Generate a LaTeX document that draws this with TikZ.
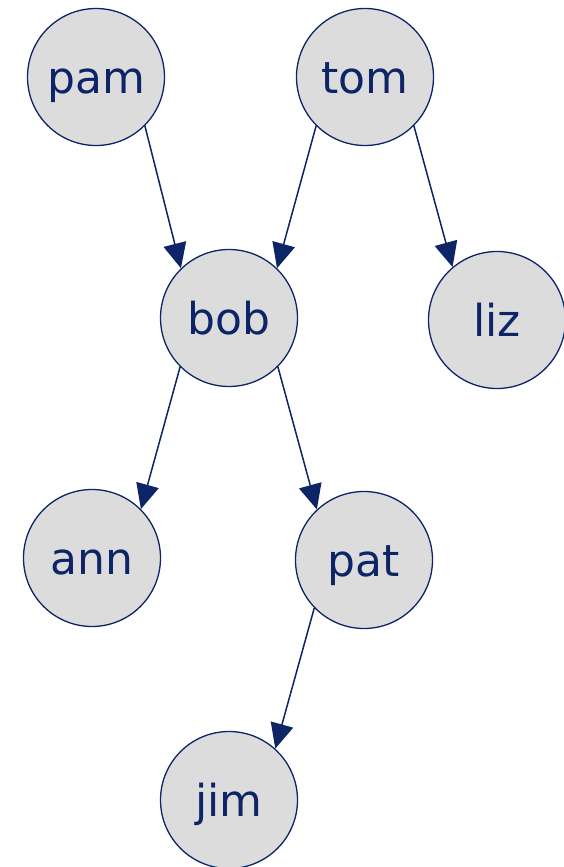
\documentclass[tikz,border=0pt]{standalone}
\usepackage{fontspec}
\setmainfont{DejaVu Sans}
\usetikzlibrary{arrows.meta}
\definecolor{navy}{HTML}{0D2466}
\definecolor{nodefill}{HTML}{DCDCDC}
\begin{document}
\begin{tikzpicture}[x=1pt,y=-1pt,
  person/.style={circle, draw=navy, line width=1.3pt, fill=nodefill,
    minimum size=137pt, inner sep=0pt, text=navy,
    text height=32pt, text depth=0pt,
    font=\fontsize{44}{44}\selectfont},
  parent/.style={draw=navy, line width=1.5pt,
    -{Triangle[length=25pt,width=23pt]}}]
\useasboundingbox (0,0) rectangle (563,867);
\node[person] (pam) at (96,77)  {pam};
\node[person] (tom) at (365,77) {tom};
\node[person] (bob) at (229,318) {bob};
\node[person] (liz) at (497,320) {liz};
\node[person] (ann) at (92,558) {ann};
\node[person] (pat) at (364,560) {pat};
\node[person] (jim) at (229,800) {jim};
\draw[parent] (pam.-45)  -- (bob.134);
\draw[parent] (tom.-135) -- (bob.46);
\draw[parent] (tom.-45)  -- (liz.130);
\draw[parent] (bob.-135) -- (ann.45);
\draw[parent] (bob.-45)  -- (pat.133);
\draw[parent] (pat.-136) -- (jim.48);
\end{tikzpicture}
\end{document}
